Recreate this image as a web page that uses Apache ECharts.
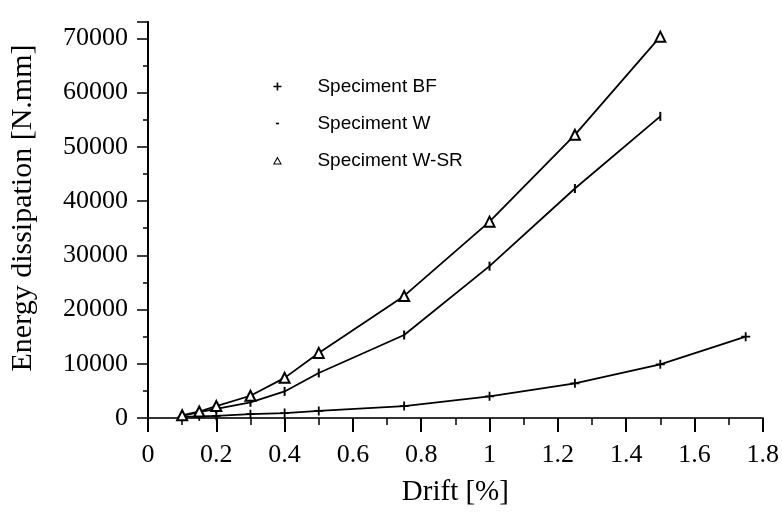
<!DOCTYPE html>
<html>
<head>
<meta charset="utf-8">
<script src="https://cdn.jsdelivr.net/npm/echarts@6/dist/echarts.min.js"></script>
<style>html,body{margin:0;padding:0;background:#fff}#c{width:782px;height:512px}</style>
</head>
<body>
<div id="c"></div>
<script>
var drift = [0.1, 0.15, 0.2, 0.3, 0.4, 0.5, 0.75, 1.0, 1.25, 1.5, 1.75];
var valuesBF = [200, 300, 400, 700, 900, 1300, 2200, 4000, 6400, 9900, 15000];
var valuesW = [400, 1100, 1700, 2900, 4900, 8300, 15300, 28000, 42300, 55600];
var valuesWSR = [500, 1200, 2200, 4100, 7400, 12000, 22500, 36200, 52200, 70300];
var seriesNames = ['Speciment BF', 'Speciment W', 'Speciment W-SR'];
var xTickLabels = ['0', '0.2', '0.4', '0.6', '0.8', '1', '1.2', '1.4', '1.6', '1.8'];
var yTickLabels = ['0', '10000', '20000', '30000', '40000', '50000', '60000', '70000'];

function pairs(xs, ys) { return ys.map(function (v, i) { return [xs[i], v]; }); }

var plusPath = 'path://M4,0H6V10H4Z M0,4H10V6H0Z';
var barPath = 'path://M0,0H2V9H0Z';
var dashLegend = 'path://M0,0M10,10M3,4H7V6H3Z';
var triLegend = 'path://M5,0L10,9H0Z M5,2.6L1.9,7.8H8.1Z';

var serif = 'Liberation Serif';
var chart = echarts.init(document.getElementById('c'), null, {renderer: 'canvas'});
chart.setOption({
  animation: false,
  backgroundColor: '#fff',
  grid: {left: 148, right: 19, top: 22, bottom: 88},
  legend: {
    orient: 'vertical', left: 268, top: 72,
    itemWidth: 70, itemHeight: 8, itemGap: 18,
    selectedMode: false,
    textStyle: {fontFamily: 'Liberation Sans', fontSize: 19, color: '#000', lineHeight: 18},
    data: [
      {name: seriesNames[0], icon: plusPath, itemStyle: {color: '#000', borderWidth: 0}},
      {name: seriesNames[1], icon: dashLegend, itemStyle: {color: '#000', borderWidth: 0}},
      {name: seriesNames[2], icon: triLegend, itemStyle: {color: '#000', borderWidth: 0}}
    ]
  },
  xAxis: [{
    type: 'value', min: 0, max: 1.8, interval: 0.2,
    name: 'Drift [%]', nameLocation: 'middle', nameGap: 60,
    nameTextStyle: {fontFamily: serif, fontSize: 29, color: '#000'},
    axisLine: {lineStyle: {color: '#000', width: 2}},
    axisTick: {show: true, inside: false, length: 14, lineStyle: {color: '#000', width: 2}},
    minorTick: {show: true, splitNumber: 2, length: 7, lineStyle: {color: '#000', width: 1.5}},
    axisLabel: {fontFamily: serif, fontSize: 26, color: '#000', margin: 24,
      formatter: function (v) { var s = String(Math.round(v * 10) / 10); return xTickLabels.indexOf(s) >= 0 ? s : ''; }},
    splitLine: {show: false}
  }, {
    type: 'value', position: 'top', min: 0, max: 1.8,
    axisLine: {show: true, lineStyle: {color: '#444', width: 1.5}},
    axisTick: {show: false}, axisLabel: {show: false}, splitLine: {show: false}
  }],
  yAxis: [{
    type: 'value', min: 0, max: 73000, interval: 10000,
    name: 'Energy dissipation [N.mm]', nameLocation: 'middle', nameGap: 110,
    nameTextStyle: {fontFamily: serif, fontSize: 30, color: '#000', padding: [0, 0, 0, 24]},
    axisLine: {show: true, lineStyle: {color: '#000', width: 2}},
    axisTick: {show: true, inside: false, length: 11, lineStyle: {color: '#000', width: 1.5}},
    minorTick: {show: true, splitNumber: 2, length: 5, lineStyle: {color: '#000', width: 1.5}},
    axisLabel: {fontFamily: serif, fontSize: 26, color: '#000', margin: 20,
      formatter: function (v) { var s = String(v); return yTickLabels.indexOf(s) >= 0 ? s : ''; }},
    splitLine: {show: false}
  }, {
    type: 'value', position: 'right', min: 0, max: 73000,
    axisLine: {show: true, lineStyle: {color: '#000', width: 2}},
    axisTick: {show: false}, axisLabel: {show: false}, splitLine: {show: false}
  }],
  series: [
    {
      name: seriesNames[0], type: 'line', data: pairs(drift, valuesBF),
      symbol: plusPath, symbolSize: 9, showAllSymbol: true,
      lineStyle: {color: '#000', width: 1.8},
      itemStyle: {color: '#000'}
    },
    {
      name: seriesNames[1], type: 'line', data: pairs(drift, valuesW),
      symbol: barPath, symbolSize: [2, 9], showAllSymbol: true,
      lineStyle: {color: '#000', width: 1.8},
      itemStyle: {color: '#000'}
    },
    {
      name: seriesNames[2], type: 'line', data: pairs(drift, valuesWSR),
      symbol: 'emptyTriangle', symbolSize: 10, showAllSymbol: true,
      lineStyle: {color: '#000', width: 1.8},
      itemStyle: {color: '#000', borderColor: '#000', borderWidth: 1.8}
    }
  ]
});
</script>
</body>
</html>
